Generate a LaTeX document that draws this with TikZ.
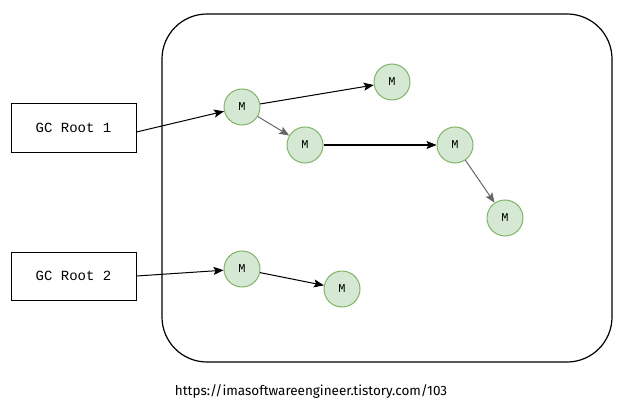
\documentclass[tikz,border=0pt]{standalone}
\usepackage{fontspec}
\setmonofont{Liberation Mono}
\newfontfamily\urlfont{Fira Sans}
\usetikzlibrary{arrows.meta}

\definecolor{objfill}{HTML}{D5E8D4}
\definecolor{objdraw}{HTML}{82B366}

\tikzset{
  rootbox/.style={draw, line width=1pt, minimum width=125pt, minimum height=48pt,
    inner sep=0pt, font=\ttfamily\fontsize{14}{16}\selectfont},
  obj/.style={circle, draw=objdraw, fill=objfill, line width=1pt, minimum size=36pt,
    inner sep=0pt, font=\ttfamily\fontsize{12}{13}\selectfont},
  ref/.style={line width=1pt, -{Stealth[length=10pt,width=8pt,inset=2pt]}},
  weakref/.style={ref, draw=black!60}
}

\begin{document}
\begin{tikzpicture}[x=1pt, y=-1pt]
				\useasboundingbox (0,0) rectangle (617,414);
				% heap
				\draw[line width=1.2pt, rounded corners=45pt] (162,14) rectangle (612,362);
				% roots
				\node[rootbox] (root1) at (73.5,128) {GC Root 1};
				\node[rootbox] (root2) at (73.5,276) {GC Root 2};
				% objects
				\node[obj] (m1) at (242,107) {M};
				\node[obj] (m2) at (392,82) {M};
				\node[obj] (m3) at (305,145) {M};
				\node[obj] (m4) at (455,145) {M};
				\node[obj] (m5) at (505,218) {M};
				\node[obj] (m6) at (242,269) {M};
				\node[obj] (m7) at (342,289) {M};
				\draw[ref] ([yshift=-4pt]root1.east) -- (m1);
				\draw[ref] (m1) -- (m2);
				\draw[weakref] (m1) -- (m3);
				\draw[ref] (m3) -- (m4);
				\draw[weakref] (m4) -- (m5);
				\draw[ref] (root2.east) -- (m6);
				\draw[ref] (m6) -- (m7);
				\node[inner sep=0pt, font=\urlfont\fontsize{13.5}{16}\selectfont] (src) at (311,391) {https://imasoftwareengineer.tistory.com/103};
			\end{tikzpicture}
\end{document}
